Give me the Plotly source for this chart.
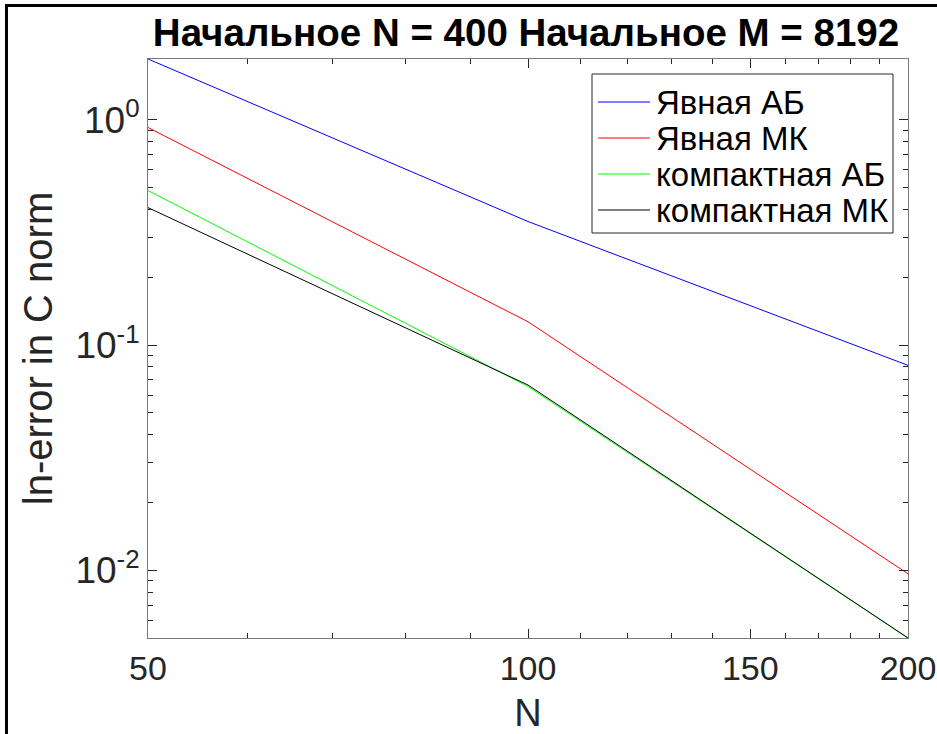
import numpy as np
import plotly.graph_objects as go

N_vals = [50, 100, 200]
explicit_ab = [1.866, 0.354, 0.0813]
explicit_mk = [0.926, 0.127, 0.00964]
compact_ab = [0.486, 0.0655, 0.00500]
compact_mk = [0.408, 0.0665, 0.00500]

series_names = ["Явная АБ", "Явная МК", "компактная АБ", "компактная МК"]
series_vals = [explicit_ab, explicit_mk, compact_ab, compact_mk]
series_colors = ["#0000FF", "#FF0000", "#00FF00", "#000000"]

x_tick_vals = [50, 100, 150, 200]
x_tick_text = ["50", "100", "150", "200"]
x_minor_vals = [60, 70, 80, 90, 110, 120, 130, 140, 160, 170, 180, 190]
y_tick_vals = [1, 0.1, 0.01]
y_tick_text = ["10<sup>0</sup>", "10<sup>-1</sup>", "10<sup>-2</sup>"]
y_minor_vals = [m * 10.0 ** e for e in (-3, -2, -1, 0) for m in range(2, 10)]

title_text = "Начальное N = 400 Начальное M = 8192"
x_label = "N"
y_label = "ln-error in C norm"

FONT = "Liberation Sans, Arial, Helvetica, sans-serif"
TXT = "#262626"

W, H = 937, 734
L, R, T, B = 148, 908, 59, 638

fig = go.Figure()
for name, vals, col in zip(series_names, series_vals, series_colors):
    fig.add_trace(go.Scatter(x=N_vals, y=vals, mode="lines", name=name,
                             line=dict(color=col, width=1), showlegend=False))

axis_common = dict(
    type="log", showgrid=False, zeroline=False, showline=True,
    linecolor="#7a7a7a", linewidth=1, mirror="allticks",
    ticks="inside", ticklen=9, tickwidth=1, tickcolor=TXT,
)

fig.update_xaxes(
    **axis_common,
    range=[np.log10(50), np.log10(200)],
    tickmode="array", tickvals=x_tick_vals, ticktext=x_tick_text,
    tickfont=dict(family=FONT, size=34, color=TXT),
    minor=dict(tickmode="array", tickvals=x_minor_vals, ticks="inside",
               ticklen=5, tickcolor=TXT, tickwidth=1, showgrid=False),
    title=dict(text=x_label, font=dict(family=FONT, size=38, color=TXT), standoff=16),
)
fig.update_yaxes(
    **axis_common,
    range=[np.log10(0.005), np.log10(1.866)],
    tickmode="array", tickvals=y_tick_vals, ticktext=y_tick_text,
    tickfont=dict(family=FONT, size=37, color=TXT),
    minor=dict(tickmode="array", tickvals=y_minor_vals, ticks="inside",
               ticklen=5, tickcolor=TXT, tickwidth=1, showgrid=False),
    title=dict(text=y_label, font=dict(family=FONT, size=40, color=TXT), standoff=10),
)

pw, ph = R - L, B - T
def px(x):
    return (x - L) / pw
def py(y):
    return (B - y) / ph

shapes = []
annotations = []
# legend box
shapes.append(dict(type="rect", xref="paper", yref="paper",
                   x0=px(592), x1=px(893), y0=py(233), y1=py(74),
                   line=dict(color=TXT, width=1), fillcolor="white", layer="above"))
row_y = [102, 138, 174, 210]
for name, col, ry in zip(series_names, series_colors, row_y):
    shapes.append(dict(type="line", xref="paper", yref="paper",
                       x0=px(598), x1=px(650), y0=py(ry), y1=py(ry),
                       line=dict(color=col, width=1), layer="above"))
    annotations.append(dict(text=name, xref="paper", yref="paper",
                            x=px(654), y=py(ry), xanchor="left", yanchor="middle",
                            showarrow=False,
                            font=dict(family=FONT, size=33, color="#000000")))
# outer figure border (left & top)
shapes.append(dict(type="line", xref="paper", yref="paper",
                   x0=px(6.5), x1=px(6.5), y0=py(740), y1=py(4), line=dict(color="black", width=3)))
shapes.append(dict(type="line", xref="paper", yref="paper",
                   x0=px(5), x1=px(940), y0=py(5.5), y1=py(5.5), line=dict(color="black", width=3)))

fig.update_layout(
    width=W, height=H,
    margin=dict(l=L, r=W - R, t=T, b=H - B, autoexpand=False),
    paper_bgcolor="white", plot_bgcolor="white",
    title=dict(text="<b>" + title_text + "</b>", xref="paper", x=px(526), xanchor="center",
               yref="container", y=1 - 33 / H, yanchor="middle",
               font=dict(family=FONT, size=38.5, color="#000000")),
    shapes=shapes, annotations=annotations, showlegend=False,
)

fig.write_html("out.html", config={"displayModeBar": False},
               post_script="document.body.style.margin='0';document.body.style.overflow='hidden';")
